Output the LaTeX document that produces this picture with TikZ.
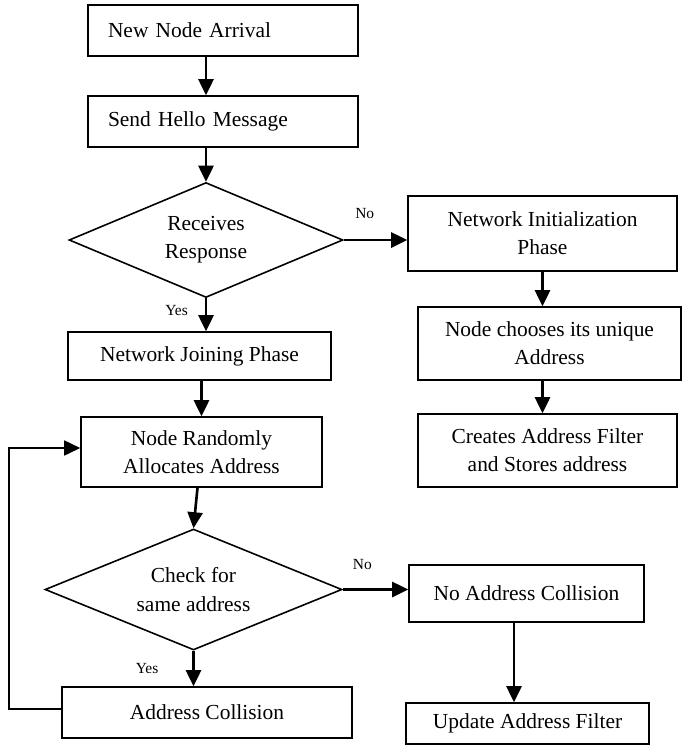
\documentclass[tikz,border=0pt]{standalone}
\usepackage{fontspec}
\setmainfont{Liberation Serif}
\usepackage{tikz}
\usetikzlibrary{positioning,shapes.geometric,arrows.meta}
\newcommand{\boxfont}{\fontsize{12.2}{16}\selectfont}
\newcommand{\answerfont}{\fontsize{8.8}{10}\selectfont}
\tikzset{
    process/.style={
        rectangle,
        draw=black,
        line width=0.9pt,
        align=center,
        inner sep=2pt,
        font=\boxfont
    },
    startbox/.style={
        process,
        align=left,
        text width=4.6cm,
        inner xsep=0.4cm,
        minimum height=1.02cm
    },
    decision/.style={
        diamond,
        draw=black,
        line width=0.9pt,
        align=center,
        inner sep=0pt,
        aspect=2.4,
        font=\boxfont
    },
    arrow/.style={
        line width=1.5pt,
        -{Triangle[length=0.32cm,width=0.3cm]}
    },
    loopline/.style={
        line width=0.9pt,
        -{Triangle[length=0.32cm,width=0.3cm]}
    },
    answer/.style={font=\answerfont}
}

\begin{document}
\begin{tikzpicture}[x=0.02cm, y=-0.02cm]
          \useasboundingbox (0,0) rectangle (683,745);
          \node (start) [startbox] at (223,30.5) {New Node Arrival};
          \node (hello) [startbox] at (223,121.5) {Send Hello Message};
          \node (decision1) [decision, minimum width=5.48cm, minimum height=2.3cm] at (206,240) {Receives\\Response};
          \node (join) [process, minimum width=5.26cm, minimum height=0.96cm] at (199.5,356) {Network Joining Phase};
          \node (init) [process, minimum width=5.38cm, minimum height=1.5cm] at (542.5,233.5) {Network Initialization\\Phase};
          \node (choose) [process, minimum width=5.26cm, minimum height=1.46cm] at (549.5,343.5) {Node chooses its unique\\Address};
          \node (create) [process, minimum width=5.18cm, minimum height=1.46cm] at (547.5,450.5) {Creates Address Filter\\and Stores address};
          \node (alloc) [process, minimum width=4.82cm, minimum height=1.4cm] at (201.5,452) {Node Randomly\\Allocates Address};
          \node (decision2) [decision, minimum width=5.94cm, minimum height=2.42cm] at (193.5,589.5) {Check for\\same address};
          \node (collision) [process, minimum width=5.8cm, minimum height=1.02cm] at (207,712.5) {Address Collision};
          \node (nocollision) [process, minimum width=4.7cm, minimum height=1.14cm] at (526.5,593.5) {No Address Collision};
          \node (update) [process, minimum width=4.86cm, minimum height=0.82cm] at (527.5,723.5) {Update Address Filter};
          \coordinate (back) at (9,0);
          \draw [arrow] (start.south -| decision1.north) -- (hello.north -| decision1.north);
          \draw [arrow] (hello.south -| decision1.north) -- (decision1.north);
          \draw [arrow] (decision1.east) -- node[answer, pos=0.33, above=0.28cm] {No} (init.west |- decision1.east);
          \draw [arrow] (decision1.south) -- node[answer, pos=0.37, left=0.22cm] {Yes} (join.north -| decision1.south);
          \draw [arrow] (init.south) -- (choose.north -| init.south);
          \draw [arrow] (choose.south -| init.south) -- (create.north -| init.south);
          \draw [arrow] (join.south -| alloc.north) -- (alloc.north);
          \draw [arrow] ([xshift=-0.08cm]alloc.south) -- (decision2.north);
          \draw [arrow] (decision2.east) -- node[answer, pos=0.3, above=0.26cm] {No} (nocollision.west |- decision2.east);
          \draw [arrow] (decision2.south) -- node[answer, pos=0.49, left=0.56cm] {Yes} (collision.north -| decision2.south);
          \draw [arrow] ([xshift=-0.25cm]nocollision.south) -- ([xshift=-0.25cm]nocollision.south |- update.north);
          \draw [loopline] ([yshift=0.07cm]collision.west) -- ([yshift=0.07cm]collision.west -| back) |- ([yshift=0.08cm]alloc.west);
        \end{tikzpicture}
\end{document}
